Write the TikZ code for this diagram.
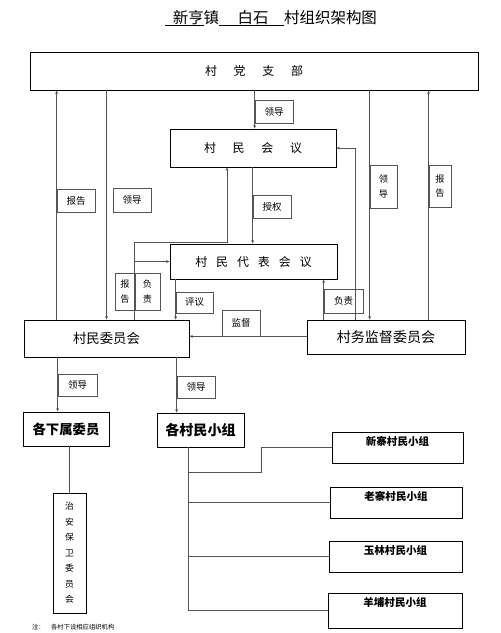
\documentclass[tikz,border=0pt]{standalone}
\usepackage{fontspec}
\setmainfont{Noto Sans CJK SC}
\usepackage{tikz}
\usetikzlibrary{arrows.meta, calc, positioning}
\newlength{\pxu}
\setlength{\pxu}{0.05cm}
\definecolor{linegray}{HTML}{555555}

\begin{document}
\begin{tikzpicture}[
		x=0.05cm, y=-0.05cm,
		size/.style 2 args={minimum width=#1\pxu, minimum height=#2\pxu},
		mainbox/.style={
				draw=black,
				line width=1.1pt,
				inner sep=0pt,
				font=\fontsize{17}{20}\selectfont
			},
		tag/.style={
				draw=linegray,
				line width=1pt,
				inner sep=0pt,
				font=\fontsize{13.5}{15}\selectfont
			},
		vtag/.style={tag, align=center, font=\fontsize{13}{21}\selectfont},
		grp/.style={draw=black, line width=1.1pt, inner sep=0pt},
		conn/.style={draw=linegray, line width=1pt},
		tip/.style={conn, -{Stealth[length=5pt, width=4pt]}}
	]
	\useasboundingbox (0,0) rectangle (500,633);

	% title
	\node[font=\fontsize{22}{24}\selectfont] (title) at (271,18)
	{\underline{\hspace{0.5em}新亨}镇\underline{\hspace{1.2em}白石\hspace{1em}}村组织架构图};

	% main bodies
	\node[mainbox, size={448}{38}] (dzb) at (254,71)
	{村\hspace{1.4em}党\hspace{1.4em}支\hspace{1.4em}部};
	\node[mainbox, size={166}{38}] (cmhy) at (253,148)
	{村\hspace{1.4em}民\hspace{1.4em}会\hspace{1.4em}议};
	\node[mainbox, size={167}{35}] (cmdb) at (253.5,261.5)
	{村\hspace{0.75em}民\hspace{0.75em}代\hspace{0.75em}表\hspace{0.75em}会\hspace{0.75em}议};
	\node[mainbox, size={165}{37}, font=\fontsize{19}{21}\selectfont] (cwh) at (106.5,338.5) {村民委员会};
	\node[mainbox, size={158}{34}, font=\fontsize{20}{22}\selectfont] (jdh) at (386,337) {村务监督委员会};

	\node[mainbox, size={86}{34}, font=\fontsize{19}{21}\bfseries] (xsw) at (66,429) {各下属委员};
	\node[mainbox, size={87}{34}, font=\fontsize{20}{22}\bfseries] (xzz) at (200.5,430) {各村民小组};
	\node[mainbox, size={33}{120}, align=center, font=\fontsize{12.5}{22}\selectfont] (zabw) at (69.5,553)
	{治\\安\\保\\卫\\委\\员\\会};

	% village groups, text sits in the upper part of the box
	\node[grp, size={131}{31}, label={[anchor=north, yshift=-2\pxu, font=\fontsize{15}{17}\bfseries]north:新寨村民小组}] (xinzhai) at (397.5,447.5) {};
	\node[grp, size={132}{31}, label={[anchor=north, yshift=-2\pxu, font=\fontsize{15}{17}\bfseries]north:老寨村民小组}] (laozhai) at (396,502.5) {};
	\node[grp, size={133}{31}, label={[anchor=north, yshift=-2\pxu, font=\fontsize{15}{17}\bfseries]north:玉林村民小组}] (yulin) at (395.5,556.5) {};
	\node[grp, size={134}{35}, label={[anchor=north, yshift=-2\pxu, font=\fontsize{15}{17}\bfseries]north:羊埔村民小组}] (yangpu) at (395,610.5) {};

	% small tags beside the lines
	\node[tag, size={38}{23}] (lingdao1) at (274,111.5) {领导};
	\node[tag, size={38}{23}] (baogao1) at (76,200.5) {报告};
	\node[tag, size={38}{24}] (lingdao2) at (132,200) {领导};
	\node[vtag, size={27}{43}] (lingdao3) at (383.5,186.5) {领\\导};
	\node[vtag, size={22}{42}] (baogao2) at (440,186) {报\\告};
	\node[tag, size={38}{23}] (shouquan) at (272,206.5) {授权};
	\node[vtag, size={20}{37}] (baogao3) at (125,291.5) {报\\告};
	\node[vtag, size={25}{37}] (fuze1) at (147.5,291.5) {负\\责};
	\node[tag, size={37}{21}] (pingyi) at (194.5,302.5) {评议};
	\node[tag, size={39}{24}] (fuze2) at (343.5,301) {负责};
	\node[tag, size={38}{26}] (jiandu) at (241,323) {监督};
	\node[tag, size={39}{22}] (lingdao4) at (77.5,385) {领导};
	\node[tag, size={38}{22}] (lingdao5) at (196,387) {领导};

	% links with the party branch
	\draw[tip] (cwh.north -| baogao1.west) -- (dzb.south -| baogao1.west);
	\draw[tip] (dzb.south -| cwh.north) -- (cwh.north);
	\draw[tip] (dzb.south -| lingdao1.west) -- (cmhy.north -| lingdao1.west);
	\draw[tip] (dzb.south -| lingdao3.west) -- (jdh.north -| lingdao3.west);
	\draw[tip] (jdh.north -| baogao2.west) -- (dzb.south -| baogao2.west);

	% links between the meetings and committees
	\draw[tip] ($(jdh.north west)+(49,0)$) |- (cmhy.east);
	\coordinate (bgturn) at (227,242);
	\draw[tip] (cwh.north -| fuze1.west) |- (bgturn) -- (bgturn |- cmhy.south);
	\draw[tip] (fuze1.west |- cmdb.west) -- (cmdb.west);
	\draw[tip] (cmhy.south -| shouquan.west) -- (cmdb.north -| shouquan.west);
	\draw[tip] (cmdb.south -| pingyi.west) -- (cwh.north -| pingyi.west);
	\draw[tip] (jdh.north -| fuze2.west) -- (cmdb.south -| fuze2.west);
	\draw[tip] (jdh.west |- jiandu.south) -- (cwh.east |- jiandu.south);

	% lower levels
	\draw[tip] (cwh.south -| lingdao4.west) -- (xsw.north -| lingdao4.west);
	\draw[tip] (cwh.south -| lingdao5.west) -- (xzz.north -| lingdao5.west);
	\draw[conn] (xsw.south -| zabw.north) -- (zabw.north);

	\draw[conn] ([xshift=32\pxu]xzz.south west) coordinate (trunk) |- (yangpu.west);
	\coordinate (jog) at (261,472);
	\draw[conn] (trunk |- jog) -- (jog) |- (xinzhai.west);
	\draw[conn] (trunk |- laozhai.west) -- (laozhai.west);
	\draw[conn] (trunk |- yulin.west) -- (yulin.west);

	% note at the foot of the page
	\node[anchor=west, inner sep=0pt, font=\fontsize{9}{10}\selectfont] (note) at (32,627)
	{注：\hspace{1em}各村下设相应组织机构};
\end{tikzpicture}
\end{document}
